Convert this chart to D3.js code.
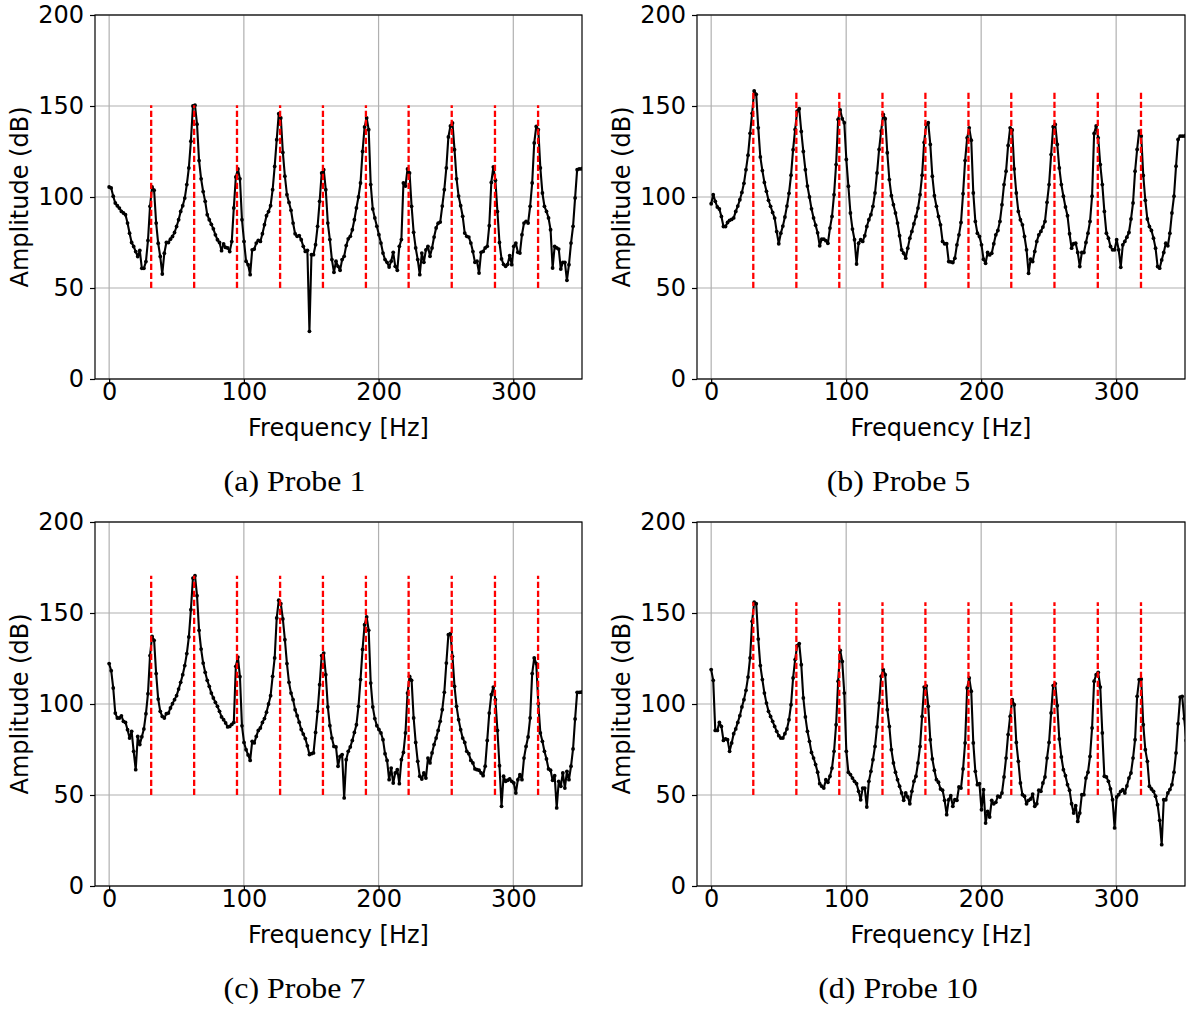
<!DOCTYPE html>
<html>
<head>
<meta charset="utf-8">
<script src="https://cdn.jsdelivr.net/npm/d3@7/dist/d3.min.js"></script>
<style>
  html, body { margin: 0; padding: 0; background: #ffffff; }
  svg { display: block; }
</style>
</head>
<body>
<script>
// ---------------- DATA ----------------
// FFT bin spacing (Hz); amplitude series are sampled on k * DF_HZ
const DF_HZ = 1.517;
// harmonic (red dashed) frequencies, Hz
const harmonicsHz = [31.2, 63.1, 94.9, 126.9, 158.7, 190.6, 222.3, 254.3, 286.4, 318.4];
const xTicks = [0, 100, 200, 300];
const yTicks = [0, 50, 100, 150, 200];
const captions = ["(a) Probe 1", "(b) Probe 5", "(c) Probe 7", "(d) Probe 10"];

const probe1 = [
  105.5,105,100.4,96.7,95.2,93.9,92.1,91.2,90.3,85.7,
  80.1,75,72.8,70,67.3,70.6,60.8,60.8,64.5,76.1,
  94.9,105.5,103.7,85.7,74.6,67.3,57.7,69.1,75,75,
  76.8,78.3,80.5,83.8,87.5,92.1,95.2,99.4,106.8,116,
  130.7,150,150.4,
  140,120,110,103,97.6,90.3,87.5,85,82.5,79.2,76.5,75,70.5,74.2,72.3,72,70,75.5,94,111,115.4,
  110,87.5,75.6,64.7,62.8,57.3,71,71.4,74.7,76.2,75.6,79.8,84.8,89.7,92,95.2,104,116.8,131.5,145.8,143.4,
  124.5,111.4,101.3,97,92.7,85.7,79.8,78.4,78.8,76.5,72.9,70.1,70.7,26.2,68.3,68.3,73.8,83.9,97.6,113.2,115,
  104,85.7,76.6,65.6,58.6,64.7,61.9,59.7,65.6,67.4,73.3,77,78.4,82,87.5,94,100,107.7,125,138.5,143.4,
  137,106.8,93.4,88.5,83.9,79.3,74.7,69.2,65.6,64.1,61.5,64.7,69.6,61.9,59.7,72.9,76.6,107.7,106,115.4,113.2,
  94.9,80.6,72,65.6,57.3,69.2,64.1,71,72.9,67.4,72,78,83,85.6,86.2,95,104,116,133,139,140.7,
  126,110,100.5,95.2,89.4,80.2,78.4,78,74.7,70,64.1,64.7,58.2,69.6,70.1,72,72.9,84.2,108,116.5,109.2,
  92,75,66,63,61.9,63,67.8,62.8,72.9,74.7,69.6,69.2,79.3,85.7,86.6,85.7,94.9,107.7,129.7,138.8,137,
  116,102.2,94.9,92.1,88.5,82,61,72.9,72,71.4,60.4,64.1,64.1,54.2,62.8,74.7,83.9,99.5,115,115.4,115.5,116
];

const probe5 = [
  96.3,101.3,97.6,94.5,93.4,89.3,83.8,83.8,86,87.2,87.7,88.5,92.1,95,98.5,102.5,107.5,115,123,135,146,
  158.3,156.4,138,122,114.5,108,103.1,98.2,94.9,91.5,88.4,81,74.3,80.1,84,89,95,102,112,126,137.1,147.2,
  148.5,136,125,115,106,100,93.5,88.5,84.5,80.3,73.2,76.8,76.8,76,74.6,82.9,89.3,101.3,117.8,142.6,147.8,
  143,140.8,120.6,105.9,91.2,82.4,76.5,63.2,74.6,76.5,75.6,78.7,83.8,87.5,90.3,94.9,102.2,113.2,126.1,136.2,145.4,
  143,124.3,109.6,100.7,95.8,91.2,85.7,78.7,71,69.1,66.4,71.9,77.4,81.1,85.3,89.3,93.9,101.3,112,130,
  139.9,140.8,128.9,111.4,100.7,94.9,89.3,84.7,75.6,74.3,74.3,64.5,64.3,64,66.4,73.7,79.2,86,101.8,120,132.5,138,
  131.2,102.2,86.6,80.1,78.3,73.7,65.8,63.6,69.5,68.2,69.1,74.3,79.2,81.6,86.6,95.8,106.8,114.2,128.3,138,136.8,
  115.4,102.2,92.1,87.5,84.7,78.3,71,58.1,65.8,64.5,70.1,75.6,79.2,81.1,83.5,86.6,97.1,106.8,123.3,138.6,139.9,
  128.9,116,106.8,100.4,94.5,89.7,79.8,71.9,74.3,74.6,69.5,61.8,69.5,69.5,75,80.1,86.6,100.4,134.9,139,132.5,
  117.8,106.8,92.1,80.1,77.4,72.8,71,71,76.5,71,61.4,73.7,75.6,77.9,80.5,87.9,96.7,114.2,126.1,136.2,133.5,
  111.8,98.2,87.9,83.8,81.6,77.4,71.9,61.8,60.9,65.4,69.5,74.6,73.2,80.1,91.2,100.4,116.9,131.6,133.5,133.5,133.5,134
];

const probe7 = [
  122.2,118.3,108.8,95,92.3,92.3,93.5,90.5,89.9,85.9,81.3,85,74,63.9,82.2,77.7,82,86.3,94.7,105.7,126.6,
  137.2,135,116.7,102.7,96,93.2,92.3,94.7,95,97.8,100.2,102.4,104.6,108.2,111.9,116.1,121.1,127.7,136.8,151.8,169.2,170.5,
  159.5,140.5,130.2,122.5,117.4,113,109.7,106,103.3,100.9,98.7,96,92.9,91.4,89.6,87.4,87.7,88.8,89.9,120.7,125.8,
  115,88,78.9,74.9,72,69,79.5,78.6,82.2,85.5,86.8,89.9,92,95.5,100,104.6,115.2,125.3,147.3,157,155.1,
  146.7,135.3,122.2,111.9,106,102.4,96.9,93.6,90,86,83.5,81,77,72.2,72.7,73.1,84.4,96,110.6,126.6,128,
  116.1,98.4,88.1,81.3,76.7,76.4,65.8,71.2,72.2,48.4,69.4,74,76.4,80,84.4,88.6,98.7,113.4,130,143.6,147.8,
  140.5,111.5,98.4,92,88.1,86,84.1,80.4,72.7,69,58.4,64.8,56.6,62.1,63.9,56.2,69.4,73.4,84.1,106,115.2,
  113,92.3,78.9,68.5,60.3,58.8,62.1,59.3,70.3,67.6,73.1,77.7,81.3,85.5,90.5,96.9,106.4,122.5,138.1,138.6,126.2,
  109.7,98.7,91.4,85.9,81.3,78.9,74,72.7,69,67.6,64.3,63.9,63.6,62.1,60.6,65.8,80,95,105.1,109.3,102.4,
  85.5,66.1,43.8,60.3,57.5,58.1,58.8,57.5,56.6,51.1,58.4,61.2,58.4,70.3,76.7,81.9,92.3,116.7,125.3,122.2,100.2,
  84.1,79.5,74,69.8,64.3,63.6,58.1,60.6,42.9,57.5,54.8,62.1,53.8,63,58.4,65.8,75.3,91.8,106.4,106.4,106.5,106.5
];

const probe10 = [
  118.9,113,85.5,85.5,89.9,87.7,80,80.8,80.4,74,78.6,83.7,86.3,89.9,93.6,98.4,102.4,107.5,114.8,125.3,145.4,
  155.9,155.1,135.7,121.1,113.4,106,100.5,96,93.2,90.5,87.7,85,82.6,81.3,81.3,83.7,86.3,91.4,99.6,114.3,124.4,132,
  133.2,121.6,103.3,92.9,85,79.5,73.4,70.3,66.7,62.5,56.2,54.8,53.8,58.4,57,60.3,64.8,74,88.6,112.5,129.5,
  123.4,106,74,62.5,61.2,59.3,57.5,56.2,52,47.4,53.8,53.8,43.4,57.5,63,69.4,76.7,87.4,100.5,115.2,118.9,
  116.1,96.9,87.7,74.9,67.6,62.5,58.4,54.8,51.1,47.1,51.1,48.9,45.2,52,57.5,60.3,67.6,76.7,93.2,109.3,110,
  98.7,80.4,69.8,63.6,58.4,57,53.3,52.6,47.1,39.2,47.4,49.6,43.8,47.4,47.1,54.4,53.8,64.3,78.6,108.8,114.3,
  107,78.6,63,55.7,56.2,41.9,52.9,34.6,41,37.9,47.1,45.2,46,49.3,48.9,51.1,59.9,70.3,83.2,93.2,102.4,
  99.6,78.9,68.5,56.6,50.2,49.3,45.2,47.1,47.8,50.5,43.8,45.2,52.6,52,56.6,59.9,70.3,78.9,95.1,110.1,111.2,
  99.1,80.8,70.9,63.9,60.6,55.7,52.6,45.2,40.1,44.1,35.5,40.1,50.2,50.2,59.3,62.5,71.2,86.8,112.5,116.1,117.4,
  109.3,84.1,60.3,59.9,57.5,53.3,47.4,31.9,48.9,50.2,52,52.9,51.1,55,59.3,62.1,70.3,80.4,104.2,113.4,113.7,
  88.6,74.9,68.5,54.8,53.3,52,49.3,44.7,36.1,22.7,47.4,47.4,51.1,53,55.7,62.5,73.1,89.2,103.8,104.2,92,80
];

const series = [probe1, probe5, probe7, probe10];

// ---------------- LAYOUT ----------------
const W = 1188, H = 1010;
const panels = [
  { left: 95,  right: 582,  top: 15,  bottom: 379, capX: 294.5, capY: 491 },
  { left: 697, right: 1185, top: 15,  bottom: 379, capX: 898.5, capY: 491 },
  { left: 95,  right: 582,  top: 522, bottom: 886, capX: 294.5, capY: 998 },
  { left: 697, right: 1185, top: 522, bottom: 886, capX: 898,   capY: 998 }
];

const FONT = "'DejaVu Sans', sans-serif";
const svg = d3.select("body").append("svg").attr("width", W).attr("height", H);
svg.append("rect").attr("width", W).attr("height", H).attr("fill", "#fff");
const defs = svg.append("defs");

panels.forEach((p, i) => {
  const vals = series[i];
  const pts = vals.map((v, k) => ({ f: k * DF_HZ, v: v }));
  const x = d3.scaleLinear().domain([-10.5, 351]).range([p.left, p.right]);
  const y = d3.scaleLinear().domain([0, 200]).range([p.bottom, p.top]);
  const g = svg.append("g");

  defs.append("clipPath").attr("id", "clip" + i)
    .append("rect").attr("x", p.left).attr("y", p.top)
    .attr("width", p.right - p.left).attr("height", p.bottom - p.top);

  // grid
  g.append("g").selectAll("line.vg").data(xTicks).join("line")
    .attr("x1", d => x(d)).attr("x2", d => x(d))
    .attr("y1", p.top).attr("y2", p.bottom)
    .attr("stroke", "#b0b0b0").attr("stroke-width", 1.2);
  g.append("g").selectAll("line.hg").data(yTicks).join("line")
    .attr("x1", p.left).attr("x2", p.right)
    .attr("y1", d => y(d)).attr("y2", d => y(d))
    .attr("stroke", "#b0b0b0").attr("stroke-width", 1.2);

  const plot = g.append("g").attr("clip-path", "url(#clip" + i + ")");
  const line = d3.line().x(d => x(d.f)).y(d => y(d.v));
  plot.append("path").datum(pts).attr("d", line)
    .attr("fill", "none").attr("stroke", "#000").attr("stroke-width", 2.1)
    .attr("stroke-linejoin", "round");
  plot.append("g").selectAll("circle").data(pts).join("circle")
    .attr("cx", d => x(d.f)).attr("cy", d => y(d.v)).attr("r", 1.9).attr("fill", "#000");

  // harmonic lines
  const vmax = d3.max(vals);
  plot.append("g").selectAll("line").data(harmonicsHz).join("line")
    .attr("x1", d => x(d)).attr("x2", d => x(d))
    .attr("y1", y(50)).attr("y2", y(vmax))
    .attr("stroke", "#ff0000").attr("stroke-width", 2.3)
    .attr("stroke-dasharray", "6.2,2.8");

  // axes
  const ax = g.append("g").attr("transform", `translate(0,${p.bottom})`)
    .call(d3.axisBottom(x).tickValues(xTicks).tickSize(5).tickPadding(-1).tickFormat(d3.format("d")));
  const ay = g.append("g").attr("transform", `translate(${p.left},0)`)
    .call(d3.axisLeft(y).tickValues(yTicks).tickSize(5).tickPadding(6).tickFormat(d3.format("d")));
  [ax, ay].forEach(a => {
    a.select(".domain").remove();
    a.selectAll(".tick line").attr("stroke", "#000").attr("stroke-width", 1.2);
    a.selectAll(".tick text").attr("font-family", FONT).attr("font-size", 24).attr("fill", "#000");
  });

  // frame
  g.append("rect").attr("x", p.left).attr("y", p.top)
    .attr("width", p.right - p.left).attr("height", p.bottom - p.top)
    .attr("fill", "none").attr("stroke", "#000").attr("stroke-width", 1.2);

  // labels
  g.append("text").attr("x", (p.left + p.right) / 2 - 0).attr("y", p.bottom + 57)
    .attr("text-anchor", "middle").attr("font-family", FONT).attr("font-size", 24)
    .attr("fill", "#000").text("Frequency [Hz]");
  g.append("text")
    .attr("transform", `translate(${p.left - 67},${(p.top + p.bottom) / 2}) rotate(-90)`)
    .attr("text-anchor", "middle").attr("font-family", FONT).attr("font-size", 24)
    .attr("fill", "#000").text("Amplitude (dB)");

  // caption
  g.append("text")
    .attr("transform", `translate(${p.capX},${p.capY}) scale(1.12,1)`)
    .attr("text-anchor", "middle").attr("font-family", "'Liberation Serif', serif")
    .attr("font-size", 28.5).attr("fill", "#000").text(captions[i]);
});
</script>
</body>
</html>
